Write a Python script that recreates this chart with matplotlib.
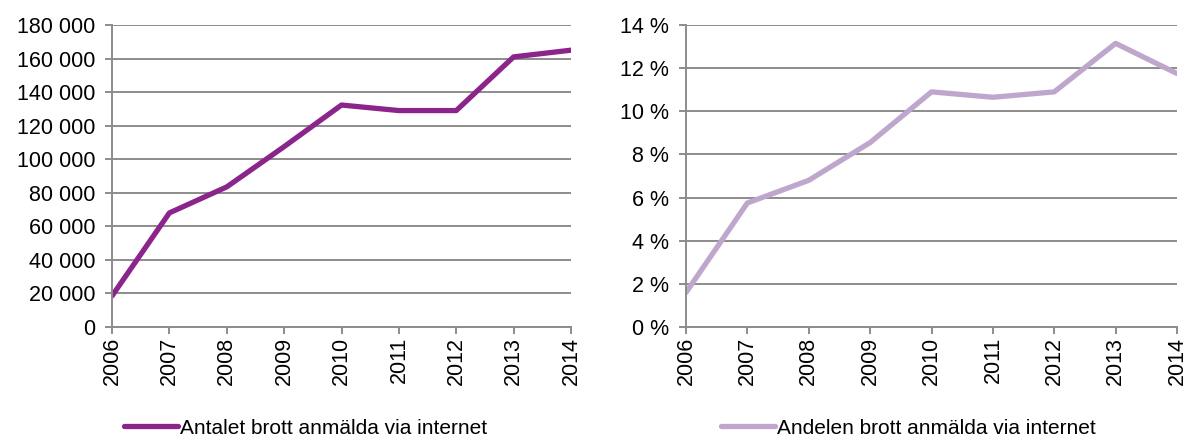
import matplotlib
matplotlib.use("Agg")
import matplotlib.pyplot as plt
from matplotlib.ticker import FuncFormatter, MultipleLocator

years = [2006, 2007, 2008, 2009, 2010, 2011, 2012, 2013, 2014]
antal = [18500, 68000, 83500, 107500, 132300, 129000, 129000, 161000, 165000]
andel = [1.6, 5.75, 6.8, 8.55, 10.9, 10.65, 10.9, 13.15, 11.75]

plt.rcParams["font.family"] = ["Liberation Sans", "DejaVu Sans"]
plt.rcParams["font.size"] = 15.5

grid_col = "#8c8c8c"

fig = plt.figure(figsize=(11.84, 4.37), dpi=100)
ax1 = fig.add_axes([112 / 1184, 1 - 327 / 437, (571 - 112) / 1184, 302 / 437])
ax2 = fig.add_axes([686 / 1184, 1 - 327 / 437, (1177 - 686) / 1184, 302 / 437])


def style(ax):
    ax.set_xlim(years[0], years[-1])
    ax.set_xticks(years)
    ax.set_xticklabels([str(y) for y in years], rotation=90)
    ax.grid(axis="y", color=grid_col, linewidth=1.4)
    ax.set_axisbelow(True)
    for s in ["top", "right"]:
        ax.spines[s].set_visible(False)
    for s in ["left", "bottom"]:
        ax.spines[s].set_color(grid_col)
        ax.spines[s].set_linewidth(1.4)
    ax.tick_params(axis="both", color=grid_col, width=1.4, length=5, labelsize=15.5)
    ax.tick_params(axis="x", pad=2)
    ax.tick_params(axis="y", pad=7)


line1, = ax1.plot(years, antal, color="#8b258b", linewidth=3.8,
                  solid_capstyle="round", label="Antalet brott anmälda via internet")
ax1.set_ylim(0, 180000)
ax1.yaxis.set_major_locator(MultipleLocator(20000))
ax1.yaxis.set_major_formatter(FuncFormatter(lambda v, p: f"{int(v):,}".replace(",", " ")))
style(ax1)

line2, = ax2.plot(years, andel, color="#bea6cc", linewidth=3.8,
                  solid_capstyle="round", label="Andelen brott anmälda via internet")
ax2.set_ylim(0, 14)
ax2.yaxis.set_major_locator(MultipleLocator(2))
ax2.yaxis.set_major_formatter(FuncFormatter(lambda v, p: f"{int(v)} %"))
style(ax2)

for h, x in [(line1, 124), (line2, 721)]:
    fig.legend(handles=[h], loc="center left", bbox_to_anchor=(x / 1184, 1 - 428 / 437),
               frameon=False, borderpad=0, borderaxespad=0, handlelength=2.6,
               handletextpad=0.1, fontsize=15)

fig.savefig("out.png", dpi=100)
